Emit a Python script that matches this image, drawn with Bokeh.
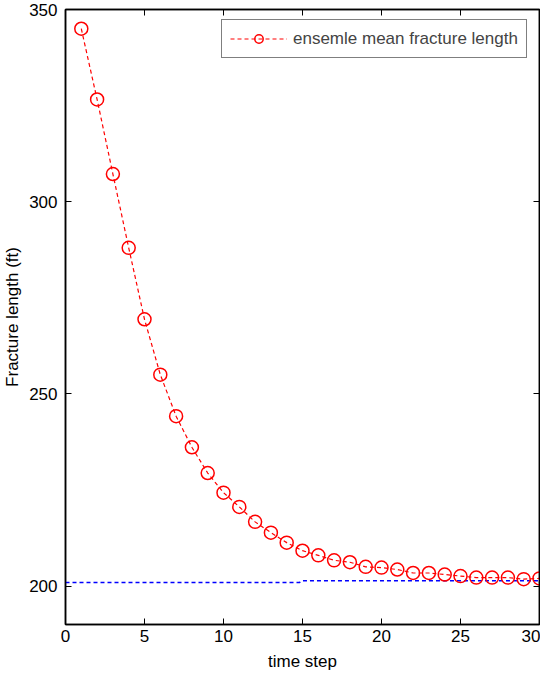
from bokeh.plotting import figure
from bokeh.models import LinearAxis, FixedTicker, Range1d, Legend
from bokeh.embed import file_html
from bokeh.resources import INLINE

steps = list(range(1, 31))
mean_length = [345.0, 326.6, 307.2, 288.0, 269.4, 255.0, 244.2, 236.1, 229.4, 224.3,
               220.6, 216.7, 213.9, 211.3, 209.2, 208.0, 206.7, 206.2, 205.0, 204.8,
               204.3, 203.4, 203.4, 203.0, 202.6, 202.2, 202.2, 202.2, 201.8, 202.0]
truth_x = [0, 14.8, 15, 30]
truth_y = [200.9, 200.9, 201.4, 201.4]
x_ticks = [0, 5, 10, 15, 20, 25, 30]
y_ticks = [200, 250, 300, 350]

FONT = "Liberation Sans"

p = figure(width=540, height=675, output_backend="svg", toolbar_location=None,
           x_range=Range1d(0, 30), y_range=Range1d(190, 350),
           min_border_left=59, min_border_right=1, min_border_top=9, min_border_bottom=51)
p.xgrid.visible = False
p.ygrid.visible = False
p.outline_line_color = "black"
p.outline_line_width = 1.5

p.line(truth_x, truth_y, line_color="blue", line_dash="4 3", line_width=1.5)
r_line = p.line(steps, mean_length, line_color="red", line_dash="4 3", line_width=1.2)
r_pts = p.scatter(steps, mean_length, marker="circle", size=13, fill_color=None,
                  line_color="red", line_width=1.5)

legend = Legend(items=[("ensemle mean fracture length", [r_line, r_pts])],
                location=(156, 566))
legend.margin = 0
legend.border_line_color = "black"
legend.border_line_width = 1.5
legend.label_text_font = FONT
legend.label_text_font_size = "17px"
legend.glyph_width = 57
legend.glyph_height = 21
legend.label_height = 21
legend.label_standoff = 6
legend.padding = 8
legend.spacing = 0
p.add_layout(legend)

for ax in (p.xaxis[0], p.yaxis[0]):
    ax.major_tick_in = 6
    ax.major_tick_out = 0
    ax.minor_tick_in = 0
    ax.minor_tick_out = 0
    ax.axis_line_color = "black"
    ax.axis_line_width = 1.5
    ax.major_label_text_font = FONT
    ax.major_label_text_font_size = "17px"
    ax.major_label_text_color = "black"
    ax.axis_label_text_font = FONT
    ax.axis_label_text_font_size = "17px"
    ax.axis_label_text_font_style = "normal"
    ax.axis_label_text_color = "black"

p.xaxis[0].ticker = FixedTicker(ticks=x_ticks)
p.yaxis[0].ticker = FixedTicker(ticks=y_ticks)
p.xaxis[0].axis_label = "time step"
p.yaxis[0].axis_label = "Fracture length (ft)"
p.xaxis[0].major_label_standoff = 5
p.yaxis[0].major_label_standoff = 8
p.xaxis[0].axis_label_standoff = 7
p.yaxis[0].axis_label_standoff = 4

top = LinearAxis(ticker=FixedTicker(ticks=x_ticks),
                 major_label_overrides={t: "" for t in x_ticks},
                 major_tick_in=6, major_tick_out=0, minor_tick_in=0, minor_tick_out=0,
                 axis_line_color="black", axis_line_width=1.5)
right = LinearAxis(ticker=FixedTicker(ticks=y_ticks),
                   major_label_overrides={t: "" for t in y_ticks},
                   major_tick_in=6, major_tick_out=0, minor_tick_in=0, minor_tick_out=0,
                   axis_line_color="black", axis_line_width=1.5)
p.add_layout(top, "above")
p.add_layout(right, "right")

open("out.html", "w").write(file_html(p, INLINE))
